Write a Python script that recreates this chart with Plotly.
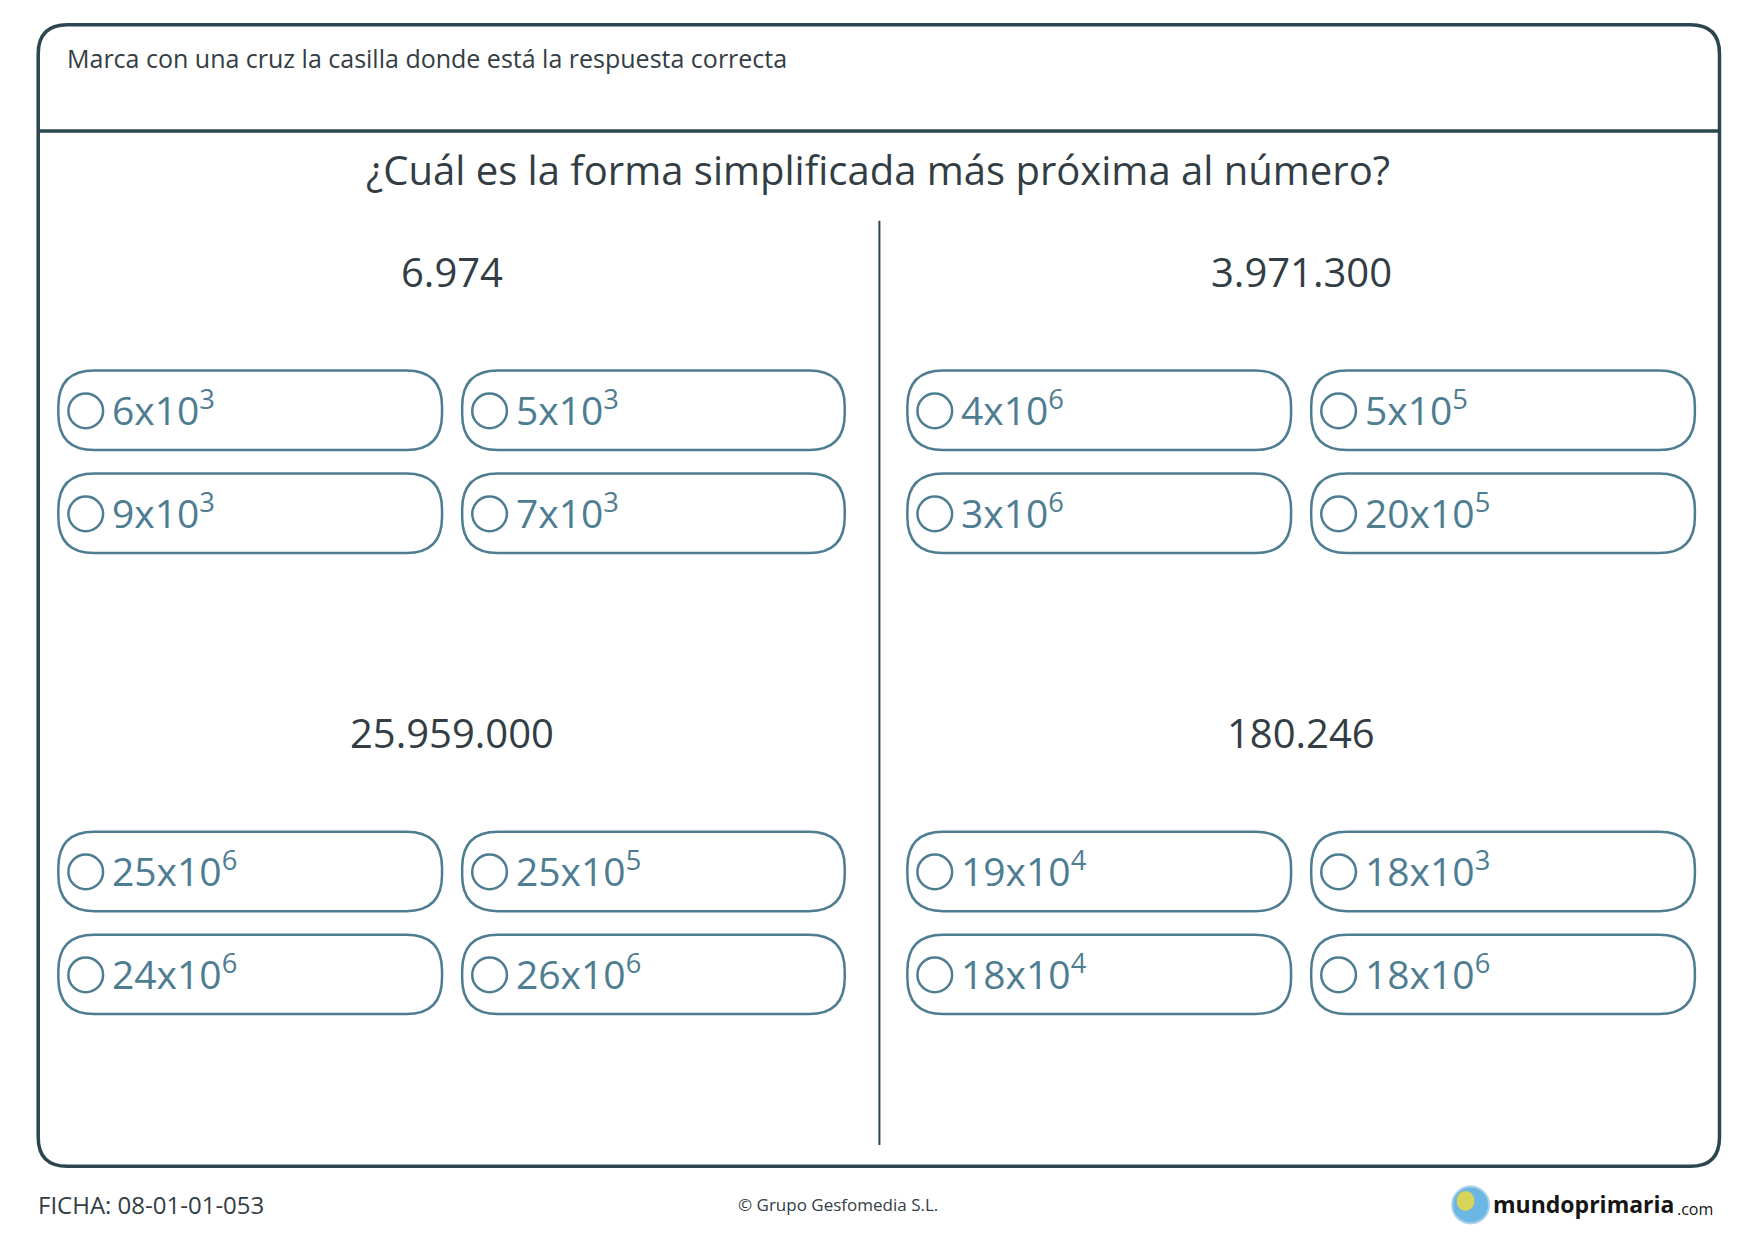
import plotly.graph_objects as go

# worksheet content
instruction = "Marca con una cruz la casilla donde está la respuesta correcta"
question = "¿Cuál es la forma simplificada más próxima al número?"
numbers = ["6.974", "3.971.300", "25.959.000", "180.246"]
options = [
    ["6x10<sup>3</sup>", "5x10<sup>3</sup>", "9x10<sup>3</sup>", "7x10<sup>3</sup>"],
    ["4x10<sup>6</sup>", "5x10<sup>5</sup>", "3x10<sup>6</sup>", "20x10<sup>5</sup>"],
    ["25x10<sup>6</sup>", "25x10<sup>5</sup>", "24x10<sup>6</sup>", "26x10<sup>6</sup>"],
    ["19x10<sup>4</sup>", "18x10<sup>3</sup>", "18x10<sup>4</sup>", "18x10<sup>6</sup>"],
]
ficha = "FICHA: 08-01-01-053"
copyright_txt = "© Grupo Gesfomedia S.L."

DARK = "#2b4650"
BLUE = "#4e7d92"
TEXT = "#333d44"
FONT = "Open Sans"


def rrect(x0, y0, x1, y1, r):
    return (f"M{x0+r},{y0} L{x1-r},{y0} Q{x1},{y0} {x1},{y0+r} L{x1},{y1-r} "
            f"Q{x1},{y1} {x1-r},{y1} L{x0+r},{y1} Q{x0},{y1} {x0},{y1-r} "
            f"L{x0},{y0+r} Q{x0},{y0} {x0+r},{y0} Z")


shapes = []
ann = []

# frame, header rule, divider
shapes.append(dict(type="path", path=rrect(34, 22, 1537, 1042, 26), line=dict(color=DARK, width=3.5)))
shapes.append(dict(type="line", x0=34, x1=1537, y0=117, y1=117, line=dict(color=DARK, width=3.5)))
shapes.append(dict(type="line", x0=786, x1=786, y0=197, y1=1023, line=dict(color=DARK, width=2)))

ann.append(dict(x=58, y=52, text=instruction, xanchor="left", font=dict(size=25, color=TEXT)))
ann.append(dict(x=785, y=151, text=question, font=dict(size=40, color=TEXT)))

col_x = [(52, 395, 413, 755), (811, 1154, 1172, 1515)]
blocks = [(0, 0, 242, 331), (1, 1, 242, 331), (2, 0, 654, 743), (3, 1, 654, 743)]
for idx, col, ny, by in blocks:
    l0, l1, r0, r1 = col_x[col]
    ann.append(dict(x=(l0 + r1) / 2, y=ny, text=numbers[idx], font=dict(size=40, color=TEXT)))
    cells = [(l0, l1, by), (r0, r1, by), (l0, l1, by + 92), (r0, r1, by + 92)]
    for k, (x0, x1, y0) in enumerate(cells):
        y1 = y0 + 71
        shapes.append(dict(type="path", path=rrect(x0, y0, x1, y1, 32), line=dict(color=BLUE, width=2.5)))
        cy = (y0 + y1) / 2
        shapes.append(dict(type="circle", x0=x0 + 9, x1=x0 + 40, y0=cy - 15, y1=cy + 16,
                           line=dict(color=BLUE, width=2.5)))
        ann.append(dict(x=x0 + 46, y=cy - 2, text=options[idx][k], xanchor="left",
                        font=dict(size=39, color=BLUE)))

# footer
ann.append(dict(x=32, y=1076, text=ficha, xanchor="left", font=dict(size=24, color=TEXT)))
ann.append(dict(x=749, y=1076, text=copyright_txt, font=dict(size=17, color=TEXT)))
shapes.append(dict(type="circle", x0=1298, x1=1331, y0=1060, y1=1093,
                   fillcolor="#6bb6e3", line=dict(color="#a9d2ea", width=2)))
shapes.append(dict(type="circle", x0=1302, x1=1318, y0=1064, y1=1082,
                   fillcolor="#d8d35a", line=dict(width=0)))
ann.append(dict(x=1333, y=1076, text="<b>mundoprimaria</b>", xanchor="left",
                font=dict(size=23, color="#151515")))
ann.append(dict(x=1497, y=1080, text=".com", xanchor="left", font=dict(size=16, color="#151515")))

for a in ann:
    a.update(xref="x", yref="y", showarrow=False, yanchor=a.get("yanchor", "middle"))
    a["font"]["family"] = FONT
for s in shapes:
    s.update(xref="x", yref="y")

fig = go.Figure()
fig.update_layout(
    width=1754, height=1240, margin=dict(l=0, r=0, t=0, b=0),
    paper_bgcolor="white", plot_bgcolor="white",
    # offset compensates the page's default body margin
    xaxis=dict(range=[7, 1575], visible=False, fixedrange=True),
    yaxis=dict(range=[1115, 7], visible=False, fixedrange=True),
    shapes=shapes, annotations=ann, showlegend=False,
)
fig.write_html("out.html")
